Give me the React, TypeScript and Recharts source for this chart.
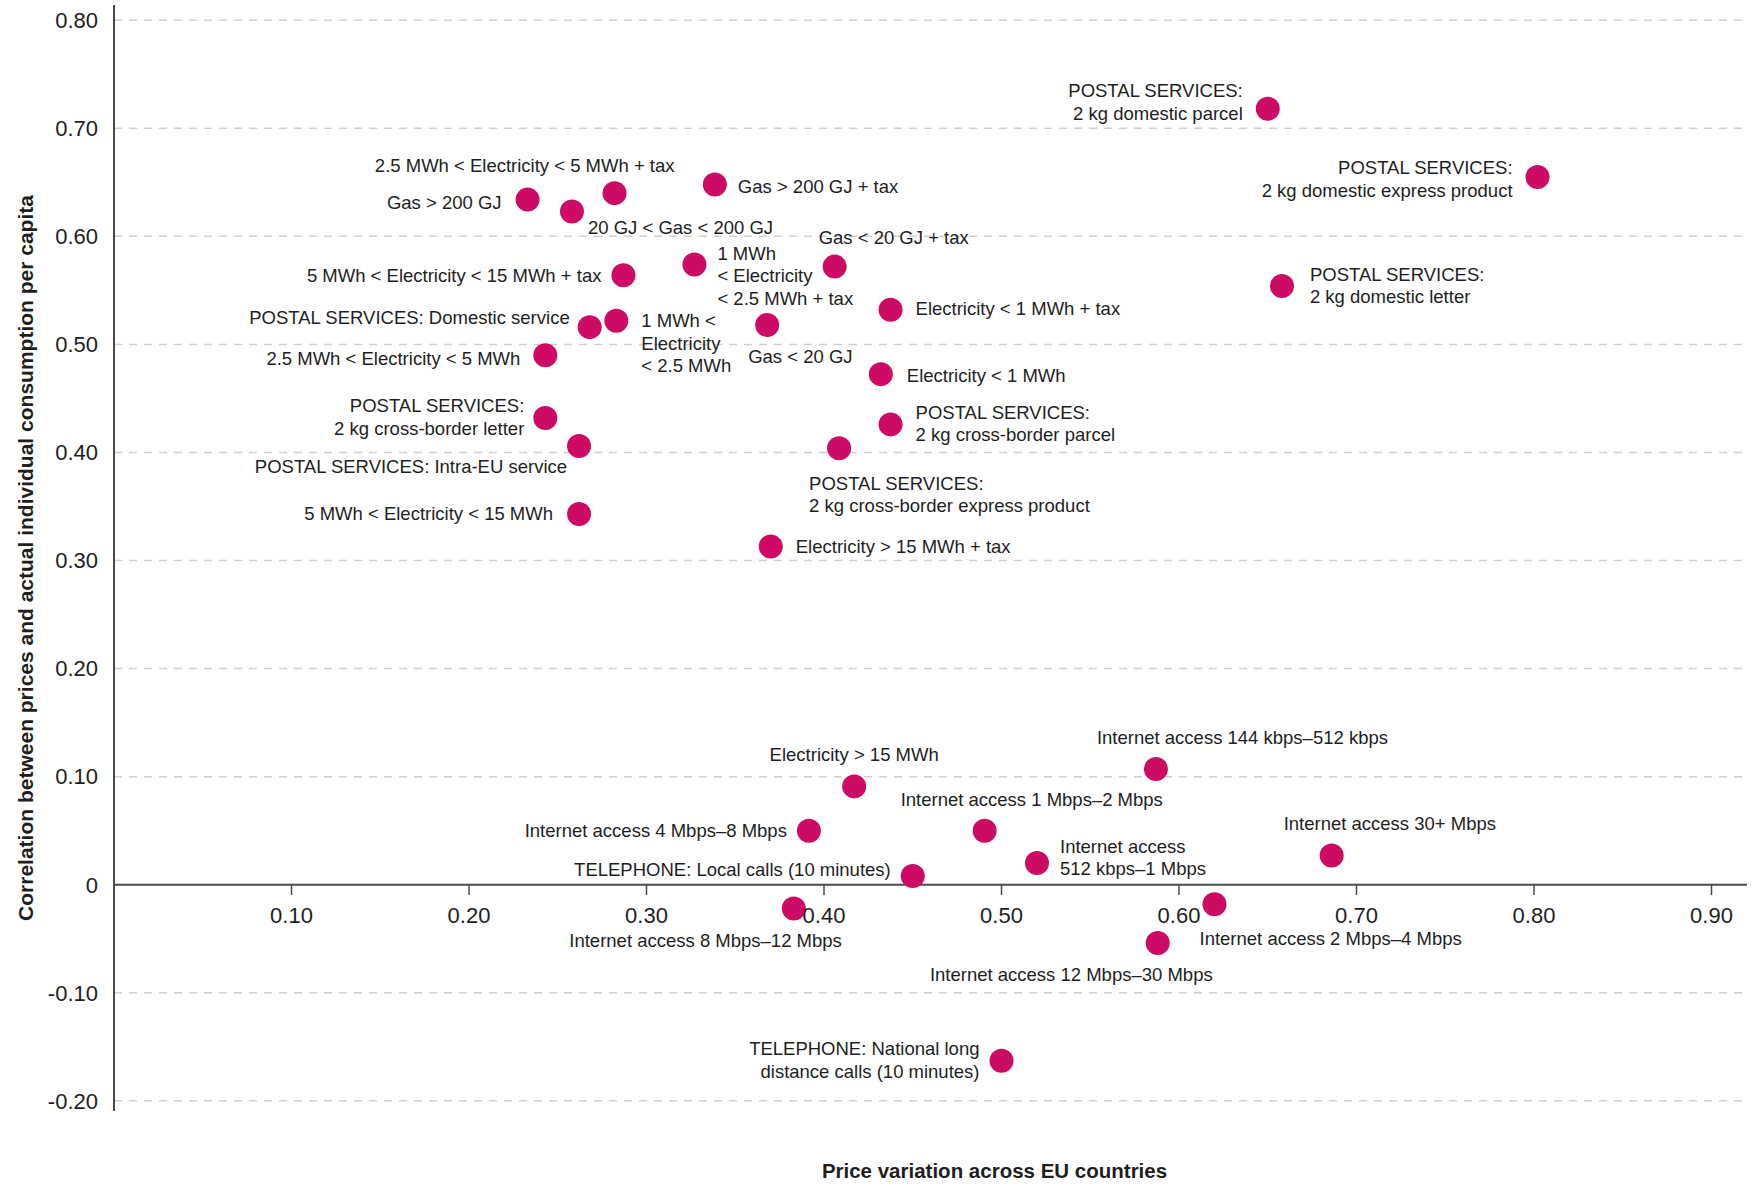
import React from 'react';
import { ScatterChart, Scatter, XAxis, YAxis, ReferenceLine } from 'recharts';

const categories: string[] = [
  'POSTAL SERVICES:\n2 kg domestic parcel',
  'POSTAL SERVICES:\n2 kg domestic express product',
  'POSTAL SERVICES:\n2 kg domestic letter',
  '2.5 MWh < Electricity < 5 MWh + tax',
  'Gas > 200 GJ',
  '20 GJ < Gas < 200 GJ',
  'Gas > 200 GJ + tax',
  '5 MWh < Electricity < 15 MWh + tax',
  '1 MWh\n< Electricity\n< 2.5 MWh + tax',
  'Gas < 20 GJ + tax',
  'Electricity < 1 MWh + tax',
  'POSTAL SERVICES: Domestic service',
  '1 MWh <\nElectricity\n< 2.5 MWh',
  'Gas < 20 GJ',
  '2.5 MWh < Electricity < 5 MWh',
  'Electricity < 1 MWh',
  'POSTAL SERVICES:\n2 kg cross-border letter',
  'POSTAL SERVICES: Intra-EU service',
  'POSTAL SERVICES:\n2 kg cross-border parcel',
  'POSTAL SERVICES:\n2 kg cross-border express product',
  '5 MWh < Electricity < 15 MWh',
  'Electricity > 15 MWh + tax',
  'Internet access 144 kbps–512 kbps',
  'Electricity > 15 MWh',
  'Internet access 4 Mbps–8 Mbps',
  'Internet access 1 Mbps–2 Mbps',
  'Internet access\n512 kbps–1 Mbps',
  'Internet access 30+ Mbps',
  'TELEPHONE: Local calls (10 minutes)',
  'Internet access 8 Mbps–12 Mbps',
  'Internet access 2 Mbps–4 Mbps',
  'Internet access 12 Mbps–30 Mbps',
  'TELEPHONE: National long\ndistance calls (10 minutes)',
];

const priceVariation: number[] = [
  0.650, 0.802, 0.658, 0.282, 0.233, 0.258, 0.3385, 0.287, 0.327, 0.406, 0.4375,
  0.268, 0.283, 0.368, 0.243, 0.432, 0.243, 0.262, 0.4375, 0.4085, 0.262, 0.370,
  0.587, 0.417, 0.3915, 0.4905, 0.520, 0.686, 0.450, 0.383, 0.620, 0.588, 0.500,
];

const correlation: number[] = [
  0.718, 0.655, 0.554, 0.640, 0.634, 0.623, 0.648, 0.564, 0.574, 0.572, 0.532,
  0.516, 0.522, 0.518, 0.490, 0.4725, 0.432, 0.406, 0.426, 0.404, 0.343, 0.313,
  0.107, 0.091, 0.050, 0.050, 0.020, 0.027, 0.008, -0.022, -0.018, -0.054, -0.163,
];

const yTicks: number[] = [-0.2, -0.1, 0, 0.1, 0.2, 0.3, 0.4, 0.5, 0.6, 0.7, 0.8];
const yTickLabels: string[] = ['-0.20', '-0.10', '0', '0.10', '0.20', '0.30', '0.40', '0.50', '0.60', '0.70', '0.80'];
const xTicks: number[] = [0.1, 0.2, 0.3, 0.4, 0.5, 0.6, 0.7, 0.8, 0.9];
const xTickLabels: string[] = ['0.10', '0.20', '0.30', '0.40', '0.50', '0.60', '0.70', '0.80', '0.90'];

const xTitle = 'Price variation across EU countries';
const yTitle = 'Correlation between prices and actual individual consumption per capita';

// label placement (layout only): [anchor, dx, dy of first line]
const labelPlacement: [string, number, number][] = [
  ['end', -25, -18], ['end', -25, -9], ['start', 28, -12], ['end', 60, -28],
  ['end', -26, 3], ['start', 16, 16], ['start', 23, 2], ['end', -22, 0],
  ['start', 23, -11], ['start', -16, -29], ['start', 25, -1], ['end', -20, -10],
  ['start', 25, 0], ['start', -19, 32], ['end', -25, 3], ['start', 26, 1],
  ['end', -21, -12], ['end', -12, 21], ['start', 25, -12], ['start', -30, 35],
  ['end', -26, -1], ['start', 25, 0], ['start', -59, -32], ['middle', 0, -32],
  ['end', -22, 0], ['start', -84, -31], ['start', 23, -17], ['start', -48, -32],
  ['end', -22, -7], ['end', 48, 32], ['start', -15, 34], ['end', 55, 31],
  ['end', -22, -12],
];

const data = categories.map((name, i) => ({ name, idx: i, x: priceVariation[i], y: correlation[i] }));

const DOT = '#cd0a64';
const TEXT = '#1e1e1e';
const AXIS = '#4a4a4a';
const GRID = '#cfcfcf';
const FONT = "'Liberation Sans', Arial, sans-serif";

const Dot = (props: any) => {
  const { cx, cy } = props;
  if (cx == null || cy == null) return null;
  return <circle cx={cx} cy={cy} r={12} fill={DOT} />;
};

const PointLabel = (props: any) => {
  const { cx, cy, payload } = props;
  if (cx == null || cy == null || !payload) return null;
  const [anchor, dx, dy] = labelPlacement[payload.idx];
  const lines = String(payload.name).split('\n');
  return (
    <g>
      {lines.map((ln, k) => (
        <text
          key={k}
          x={cx + dx}
          y={cy + dy + k * 22.5}
          textAnchor={anchor as any}
          dominantBaseline="central"
          fontSize={18.5}
          fill={TEXT}
          fontFamily={FONT}
        >
          {ln}
        </text>
      ))}
    </g>
  );
};

const YTitle = (props: any) => {
  const vb = props.viewBox || { x: 0, y: 0, width: 0, height: 0 };
  const x = vb.x + 25;
  const y = vb.y + vb.height / 2;
  return (
    <text x={x} y={y} transform={`rotate(-90 ${x} ${y})`} textAnchor="middle" dominantBaseline="central"
      fontSize={21} fontWeight="bold" fill={TEXT} fontFamily={FONT}>
      {yTitle}
    </text>
  );
};

const XTitle = (props: any) => {
  const vb = props.viewBox || { x: 0, y: 0, width: 0, height: 0 };
  const x = vb.x + vb.width / 2 + 64;
  const y = vb.y + 59;
  return (
    <text x={x} y={y} textAnchor="middle" dominantBaseline="central"
      fontSize={20.5} fontWeight="bold" fill={TEXT} fontFamily={FONT}>
      {xTitle}
    </text>
  );
};

export default function App() {
  return (
    <div style={{ position: 'absolute', left: 0, top: 0, width: 1756, height: 1184, background: '#fff', fontFamily: FONT }}>
      <ScatterChart width={1756} height={1184} margin={{ top: 5, right: 9, bottom: 0, left: 0 }}>
        <XAxis
          type="number"
          dataKey="x"
          domain={[0, 0.92]}
          allowDataOverflow
          height={73}
          tick={false}
          tickLine={false}
          axisLine={false}
          label={(p: any) => <XTitle {...p} />}
        />
        <YAxis
          type="number"
          dataKey="y"
          domain={[-0.2094, 0.8141]}
          allowDataOverflow
          width={114}
          ticks={yTicks}
          tickFormatter={(v: number) => yTickLabels[yTicks.findIndex((t) => Math.abs(t - v) < 1e-9)] ?? ''}
          tickLine={false}
          tickSize={6}
          tickMargin={10}
          axisLine={{ stroke: AXIS, strokeWidth: 2 }}
          tick={{ fontSize: 22, fill: TEXT, fontFamily: FONT }}
          interval={0}
          label={(p: any) => <YTitle {...p} />}
        />
        {yTicks.filter((t) => t !== 0).map((t, i) => (
          <ReferenceLine key={'g' + i} y={t} stroke={GRID} strokeWidth={1.5} strokeDasharray="8 7" />
        ))}
        <ReferenceLine y={0} stroke={AXIS} strokeWidth={2} />
        {xTicks.map((t, i) => (
          <ReferenceLine
            key={'xt' + i}
            segment={[{ x: t, y: 0 }, { x: t, y: -0.0095 }]}
            stroke={AXIS}
            strokeWidth={1.5}
            label={{ value: xTickLabels[i], position: 'bottom', offset: 12, fill: TEXT, fontSize: 22, fontFamily: FONT }}
          />
        ))}
        <Scatter data={data} isAnimationActive={false} shape={Dot} />
        <Scatter data={data} isAnimationActive={false} shape={PointLabel} />
      </ScatterChart>
    </div>
  );
}
